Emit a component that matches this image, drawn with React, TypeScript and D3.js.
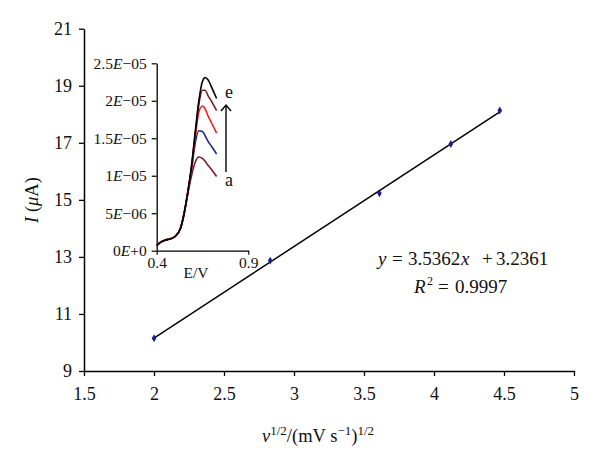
import React, { useEffect, useRef } from "react";
import * as d3 from "d3";

// main plot: peak current vs square root of scan rate
const sqrtRate = [2.0, 2.83, 3.61, 4.12, 4.47];
const peakCurrent = [10.15, 12.87, 15.23, 16.96, 18.13];
const xTicks = [1.5, 2, 2.5, 3, 3.5, 4, 4.5, 5];
const yTicks = [9, 11, 13, 15, 17, 19, 21];

// inset: voltammograms a..e
const potential = [0.4, 0.42, 0.445, 0.47, 0.5, 0.53, 0.55, 0.57, 0.59, 0.61, 0.63, 0.65, 0.665, 0.68, 0.7, 0.727];
const curveA = [0.7, 1.1, 1.4, 1.55, 1.9, 3.0, 5.0, 7.6, 10.0, 11.8, 12.5, 12.3, 11.9, 11.4, 10.8, 9.9];
const curveB = [0.7, 1.1, 1.4, 1.55, 1.9, 3.0, 5.0, 7.7, 10.8, 14.3, 16.0, 15.9, 15.3, 14.6, 13.9, 12.9];
const curveC = [0.7, 1.1, 1.4, 1.55, 1.9, 3.0, 5.0, 7.8, 11.0, 15.0, 18.5, 19.3, 18.9, 18.0, 17.0, 15.7];
const curveD = [0.7, 1.1, 1.4, 1.55, 1.9, 3.0, 5.0, 7.8, 11.2, 15.5, 19.5, 21.4, 21.4, 20.7, 19.9, 18.7];
const curveE = [0.7, 1.1, 1.4, 1.55, 1.9, 3.0, 5.0, 7.9, 11.3, 15.8, 20.0, 22.6, 23.1, 22.8, 21.8, 20.3];
const curveColors = ["#7a1b22", "#1d2a8c", "#f01c24", "#7a1b22", "#000000"];
const insetYTicks = [0, 5e-6, 1e-5, 1.5e-5, 2e-5, 2.5e-5];
const insetYLabels = ["0", "5", "1", "1.5", "2", "2.5"];
const insetYExp = ["+0", "−06", "−05", "−05", "−05", "−05"];
const insetXTicks = [0.4, 0.9];

const FONT = "'Liberation Serif', 'DejaVu Serif', serif";

export default function App() {
  const svgRef = useRef<SVGSVGElement>(null);

  useEffect(() => {
    const svg = d3.select(svgRef.current);
    svg.selectAll("*").remove();

    const x = d3.scaleLinear().domain([1.5, 5]).range([84, 574]);
    const y = d3.scaleLinear().domain([9, 21]).range([371, 28.7]);

    const g = svg.append("g").style("font-family", FONT);

    // axes
    const xAxis = g.append("g").attr("transform", `translate(0,${y(9)})`)
      .call(d3.axisBottom(x).tickValues(xTicks).tickSize(5).tickSizeOuter(0).tickFormat(d3.format("")));
    const yAxis = g.append("g").attr("transform", `translate(${x(1.5)},0)`)
      .call(d3.axisLeft(y).tickValues(yTicks).tickSize(5).tickSizeOuter(0).tickFormat(d3.format("")));
    [xAxis, yAxis].forEach(a => {
      a.attr("font-family", null);
      a.select(".domain").attr("stroke", "#000").attr("stroke-width", 1.5);
      a.selectAll(".tick line").attr("stroke", "#000").attr("stroke-width", 1.3);
      a.selectAll(".tick text").attr("fill", "#111").style("font-size", "18px").style("font-family", FONT);
    });
    xAxis.selectAll(".tick text").attr("dy", "1em").attr("y", 11);
    yAxis.selectAll(".tick text").attr("x", -12);

    // fitted line over data extent
    const n = sqrtRate.length;
    const mx = d3.mean(sqrtRate)!;
    const my = d3.mean(peakCurrent)!;
    const slope = d3.sum(sqrtRate.map((v, i) => (v - mx) * (peakCurrent[i] - my))) /
      d3.sum(sqrtRate.map(v => (v - mx) ** 2));
    const icpt = my - slope * mx;
    const x0 = d3.min(sqrtRate)!, x1 = d3.max(sqrtRate)!;
    g.append("line")
      .attr("x1", x(x0)).attr("y1", y(icpt + slope * x0))
      .attr("x2", x(x1)).attr("y2", y(icpt + slope * x1))
      .attr("stroke", "#000").attr("stroke-width", 1.5);

    const sym = d3.symbol(d3.symbolDiamond, 18);
    g.selectAll(".pt").data(d3.range(n)).join("path")
      .attr("transform", i => `translate(${x(sqrtRate[i])},${y(peakCurrent[i])})`)
      .attr("d", sym()).attr("fill", "#1a1f8a");

    // inset
    const ix = d3.scaleLinear().domain([0.4, 0.9]).range([156.7, 248.3]);
    const iy = d3.scaleLinear().domain([0, 2.5e-5]).range([250.7, 63.3]);
    const ig = g.append("g");

    const iyAxis = ig.append("g").attr("transform", `translate(${ix(0.4)},0)`)
      .call(d3.axisLeft(iy).tickValues(insetYTicks).tickSize(5).tickSizeOuter(0).tickFormat(() => ""));
    const ixAxis = ig.append("g").attr("transform", `translate(0,${iy(0)})`)
      .call(d3.axisBottom(ix).tickValues(insetXTicks).tickSize(4).tickSizeOuter(0).tickFormat(d3.format(".1f")));
    [iyAxis, ixAxis].forEach(a => {
      a.attr("font-family", null);
      a.select(".domain").attr("stroke", "#000").attr("stroke-width", 1.3);
      a.selectAll(".tick line").attr("stroke", "#000").attr("stroke-width", 1.2);
    });
    ixAxis.selectAll(".tick text").attr("fill", "#111").style("font-size", "15.5px")
      .style("font-family", FONT).attr("y", 5).attr("dy", "0.8em");

    const labels = ig.selectAll(".iyl").data(insetYTicks).join("text")
      .attr("x", ix(0.4) - 10).attr("y", d => iy(d)).attr("dy", "0.35em")
      .attr("text-anchor", "end").attr("fill", "#111").style("font-size", "15.5px");
    labels.each(function (_, i) {
      const t = d3.select(this);
      t.append("tspan").text(insetYLabels[i]);
      t.append("tspan").attr("font-style", "italic").text("E");
      t.append("tspan").text(insetYExp[i]);
    });

    ig.append("text").attr("x", 196).attr("y", 278)
      .attr("text-anchor", "middle").attr("fill", "#111").style("font-size", "15.5px").text("E/V");

    const line = d3.line<number>().x((_, i) => ix(potential[i])).y(d => iy(d * 1e-6)).curve(d3.curveMonotoneX);
    [curveA, curveB, curveC, curveD, curveE].forEach((c, k) => {
      ig.append("path").attr("d", line(c)).attr("fill", "none")
        .attr("stroke", curveColors[k]).attr("stroke-width", 1.6);
    });

    // arrow a -> e
    const ax = 226;
    ig.append("line").attr("x1", ax).attr("x2", ax).attr("y1", 172).attr("y2", 105)
      .attr("stroke", "#000").attr("stroke-width", 1.4);
    ig.append("path")
      .attr("d", `M${ax - 5},111L${ax},105L${ax + 5},111`)
      .attr("fill", "none").attr("stroke", "#000").attr("stroke-width", 1.4);
    ig.append("text").attr("x", ax + 3).attr("y", 98).attr("text-anchor", "middle")
      .attr("fill", "#111").style("font-size", "18px").text("e");
    ig.append("text").attr("x", ax + 3).attr("y", 186).attr("text-anchor", "middle")
      .attr("fill", "#111").style("font-size", "18px").text("a");

    // equation
    const eq = g.append("g").attr("fill", "#111").style("font-size", "19px");
    const put = (px: number, py: number, s: string, italic = false, size?: string) => {
      const t = eq.append("text").attr("x", px).attr("y", py).text(s);
      if (italic) t.attr("font-style", "italic");
      if (size) t.style("font-size", size);
    };
    put(378, 265, "y", true);
    put(392, 265, "=");
    put(408, 265, "3.5362");
    put(461, 265, "x", true);
    put(482, 265, "+");
    put(496, 265, "3.2361");
    put(414, 293, "R", true);
    put(427, 285, "2", false, "12px");
    put(438, 293, "=");
    put(455, 293, "0.9997");

    // axis titles
    const yt = g.append("text").attr("transform", "translate(38,200) rotate(-90)")
      .attr("text-anchor", "middle").attr("fill", "#111").style("font-size", "18.5px");
    yt.append("tspan").attr("font-style", "italic").text("I");
    yt.append("tspan").text(" (");
    yt.append("tspan").attr("font-style", "italic").text("μ");
    yt.append("tspan").text("A)");

    const xt = g.append("text").attr("x", 318).attr("y", 442)
      .attr("text-anchor", "middle").attr("fill", "#111").style("font-size", "18.5px");
    xt.append("tspan").attr("font-style", "italic").text("ν");
    xt.append("tspan").attr("dy", -7).style("font-size", "13px").text("1/2");
    xt.append("tspan").attr("dy", 7).text("/(mV s");
    xt.append("tspan").attr("dy", -7).style("font-size", "13px").text("−1");
    xt.append("tspan").attr("dy", 7).text(")");
    xt.append("tspan").attr("dy", -7).style("font-size", "13px").text("1/2");
  }, []);

  return (
    <svg ref={svgRef} width={600} height={458}
      style={{ position: "absolute", left: 0, top: 0, background: "#fff" }} />
  );
}
